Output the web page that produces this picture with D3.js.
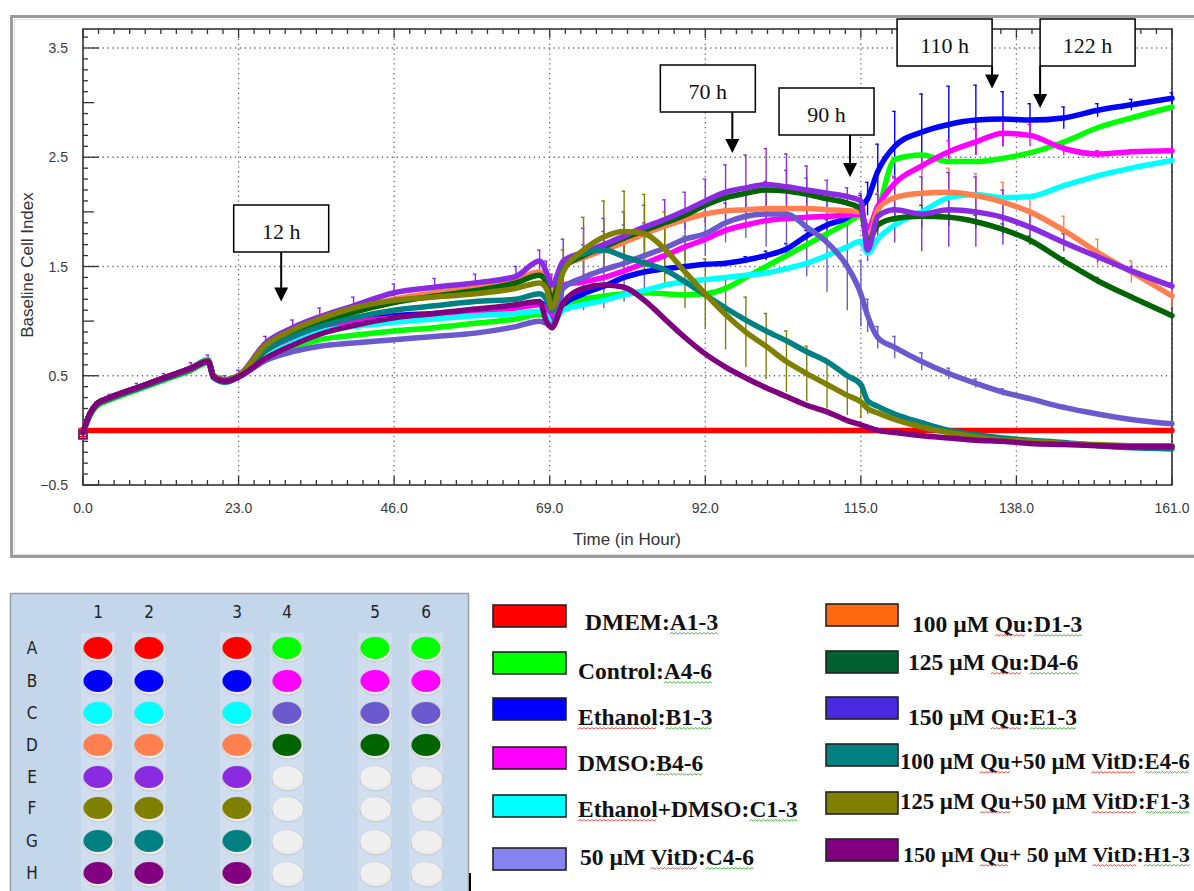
<!DOCTYPE html>
<html>
<head>
<meta charset="utf-8">
<script src="https://cdn.jsdelivr.net/npm/d3@7"></script>
<style>
  body { margin: 0; background: #fff; }
  svg { display: block; }
  text { white-space: pre; }
</style>
</head>
<body>
<svg id="fig" width="1194" height="891"></svg>
<script>
// ---------------- data ----------------
var hours = [0, 1, 2, 4, 8, 12, 16, 18.5, 19.3, 21,
  23, 27, 31, 35, 40, 46, 52, 58, 64, 67.5,
  68.5, 69.3, 71, 74, 77, 80, 83, 86, 89, 92,
  95, 98, 101, 104, 107, 110, 113, 115, 116, 117.5,
  120, 124, 128, 132, 136, 140, 145, 150, 155, 161];

var dmemCI = [0, 0, 0, 0, 0, 0, 0, 0, 0, 0,
  0, 0, 0, 0, 0, 0, 0, 0, 0, 0,
  0, 0, 0, 0, 0, 0, 0, 0, 0, 0,
  0, 0, 0, 0, 0, 0, 0, 0, 0, 0,
  0, 0, 0, 0, 0, 0, 0, 0, 0, 0];
var controlCI = [-0.02, 0.13, 0.22, 0.28, 0.37, 0.46, 0.55, 0.62, 0.49, 0.45,
  0.49, 0.66, 0.76, 0.83, 0.87, 0.91, 0.94, 0.98, 1.02, 1.06,
  1.04, 0.98, 1.15, 1.2, 1.23, 1.25, 1.26, 1.25, 1.24, 1.25,
  1.3, 1.4, 1.5, 1.6, 1.7, 1.8, 1.9, 1.97, 1.75, 2.0,
  2.48, 2.52, 2.46, 2.46, 2.49, 2.54, 2.64, 2.77, 2.86, 2.96];
var ethanolCI = [-0.02, 0.15, 0.24, 0.3, 0.39, 0.48, 0.57, 0.64, 0.5, 0.46,
  0.5, 0.7, 0.84, 0.95, 1.0, 1.05, 1.07, 1.1, 1.13, 1.17,
  1.12, 1.02, 1.15, 1.25, 1.32, 1.4, 1.45, 1.48, 1.5, 1.52,
  1.53, 1.56, 1.6, 1.66, 1.78, 1.88, 1.95, 2.05, 2.12, 2.37,
  2.6, 2.73, 2.8, 2.84, 2.85, 2.84, 2.86, 2.93, 2.98, 3.04];
var dmsoCI = [-0.02, 0.15, 0.24, 0.3, 0.39, 0.48, 0.57, 0.64, 0.5, 0.46,
  0.5, 0.7, 0.83, 0.93, 0.99, 1.03, 1.06, 1.09, 1.12, 1.15,
  1.12, 1.05, 1.33, 1.36, 1.4, 1.46, 1.53, 1.6, 1.68, 1.75,
  1.83, 1.88, 1.92, 1.94, 1.95, 1.96, 1.97, 1.98, 1.85, 2.05,
  2.26, 2.42, 2.55, 2.64, 2.72, 2.7, 2.58, 2.53, 2.55, 2.56];
var ethDmsoCI = [-0.02, 0.15, 0.24, 0.3, 0.39, 0.48, 0.57, 0.65, 0.5, 0.46,
  0.5, 0.68, 0.8, 0.9, 0.95, 0.99, 1.02, 1.05, 1.07, 1.09,
  1.05, 0.98, 1.1, 1.15, 1.19, 1.24, 1.28, 1.33, 1.36, 1.38,
  1.4, 1.42, 1.44, 1.48, 1.53, 1.6, 1.68, 1.73, 1.62, 1.75,
  1.88, 2.0, 2.13, 2.16, 2.13, 2.14, 2.24, 2.33, 2.4, 2.47];
var vitdCI = [-0.02, 0.14, 0.23, 0.29, 0.38, 0.47, 0.56, 0.63, 0.49, 0.45,
  0.49, 0.64, 0.72, 0.77, 0.8, 0.83, 0.86, 0.89, 0.95, 1.0,
  0.98, 0.95, 1.3, 1.4, 1.47, 1.53, 1.6, 1.67, 1.75, 1.8,
  1.9, 1.96, 1.98, 1.98, 1.86, 1.72, 1.5, 1.25, 1.05, 0.85,
  0.76, 0.63, 0.52, 0.43, 0.35, 0.29, 0.21, 0.15, 0.1, 0.06];
var qu100CI = [-0.02, 0.15, 0.24, 0.3, 0.39, 0.48, 0.57, 0.64, 0.5, 0.46,
  0.5, 0.74, 0.88, 0.99, 1.1, 1.2, 1.26, 1.31, 1.38, 1.45,
  1.38, 1.25, 1.5, 1.58, 1.65, 1.72, 1.8, 1.87, 1.93, 1.98,
  2.01, 2.02, 2.03, 2.03, 2.03, 2.02, 2.01, 2.0, 1.75, 2.02,
  2.13, 2.17, 2.18, 2.15, 2.09, 2.0, 1.83, 1.63, 1.45, 1.23];
var qu125CI = [-0.02, 0.15, 0.24, 0.3, 0.39, 0.48, 0.57, 0.64, 0.5, 0.46,
  0.5, 0.73, 0.87, 0.98, 1.08, 1.17, 1.23, 1.28, 1.35, 1.42,
  1.35, 1.2, 1.48, 1.6, 1.68, 1.76, 1.83, 1.9, 1.97, 2.06,
  2.13, 2.17, 2.2, 2.19, 2.16, 2.12, 2.08, 2.03, 1.72, 1.88,
  1.94, 1.96, 1.95, 1.91, 1.84, 1.74, 1.55, 1.37, 1.22, 1.05];
var qu150CI = [-0.02, 0.15, 0.24, 0.3, 0.39, 0.48, 0.57, 0.64, 0.5, 0.46,
  0.5, 0.8, 0.94, 1.04, 1.14, 1.26, 1.31, 1.35, 1.41, 1.55,
  1.45, 1.33, 1.55, 1.63, 1.7, 1.78, 1.86, 1.93, 2.01, 2.1,
  2.18, 2.22, 2.25, 2.23, 2.2, 2.17, 2.14, 2.1, 1.65, 1.96,
  2.02, 1.98, 2.02, 2.0, 1.95, 1.86, 1.72, 1.59, 1.46, 1.32];
var qu100VitdCI = [-0.02, 0.14, 0.23, 0.29, 0.38, 0.47, 0.56, 0.63, 0.48, 0.44,
  0.49, 0.74, 0.86, 0.95, 1.03, 1.1, 1.14, 1.18, 1.2, 1.25,
  1.2, 1.1, 1.47, 1.62, 1.65, 1.59, 1.53, 1.47, 1.36, 1.24,
  1.12, 1.01, 0.91, 0.82, 0.72, 0.63, 0.5, 0.42, 0.27, 0.22,
  0.15, 0.07, 0.0, -0.04, -0.07, -0.09, -0.11, -0.14, -0.16, -0.17];
var qu125VitdCI = [-0.02, 0.15, 0.24, 0.3, 0.39, 0.48, 0.57, 0.64, 0.5, 0.46,
  0.5, 0.78, 0.92, 1.02, 1.12, 1.19, 1.22, 1.25, 1.3, 1.35,
  1.3, 1.12, 1.45, 1.65, 1.77, 1.82, 1.8, 1.66, 1.45, 1.25,
  1.06, 0.9, 0.77, 0.63, 0.52, 0.42, 0.32, 0.26, 0.2, 0.16,
  0.1, 0.03, -0.02, -0.06, -0.09, -0.1, -0.12, -0.13, -0.14, -0.14];
var qu150VitdCI = [-0.02, 0.15, 0.24, 0.3, 0.39, 0.48, 0.57, 0.63, 0.49, 0.45,
  0.49, 0.66, 0.78, 0.88, 0.96, 1.03, 1.07, 1.11, 1.15, 1.18,
  1.0, 0.94, 1.17, 1.3, 1.33, 1.31, 1.19, 1.02, 0.85, 0.7,
  0.58, 0.48, 0.39, 0.31, 0.23, 0.17, 0.09, 0.05, 0.03, 0.0,
  -0.02, -0.05, -0.07, -0.09, -0.1, -0.12, -0.13, -0.14, -0.15, -0.15];

// standard deviations (only the wells whose bars show)
var ethanolSD = [0, 0, 0, 0, 0, 0, 0, 0, 0, 0,
  0, 0, 0, 0, 0, 0, 0, 0, 0, 0,
  0, 0, 0, 0, 0, 0, 0, 0, 0, 0,
  0, 0.03, 0.04, 0.05, 0.05, 0.05, 0.06, 0.1, 0.15, 0.25,
  0.32, 0.35, 0.35, 0.32, 0.25, 0.15, 0.1, 0.06, 0.05, 0.05];
var dmsoSD = [0, 0, 0, 0, 0, 0, 0, 0, 0, 0,
  0, 0, 0, 0, 0, 0, 0, 0, 0, 0,
  0, 0, 0, 0, 0, 0, 0, 0, 0, 0,
  0, 0, 0, 0, 0, 0, 0, 0, 0, 0,
  0.05, 0.08, 0.1, 0.12, 0.12, 0.1, 0.06, 0.03, 0.02, 0.02];
var vitdSD = [0, 0, 0, 0, 0, 0, 0, 0, 0, 0,
  0, 0, 0, 0, 0, 0, 0, 0, 0, 0,
  0, 0, 0.15, 0.3, 0.35, 0.35, 0.3, 0.25, 0.2, 0.2,
  0.18, 0.2, 0.3, 0.4, 0.45, 0.45, 0.4, 0.3, 0.15, 0.1,
  0.1, 0.08, 0.05, 0.04, 0.03, 0.02, 0.02, 0, 0, 0];
var qu100SD = [0, 0, 0, 0, 0, 0, 0, 0, 0, 0,
  0, 0, 0, 0, 0, 0, 0, 0, 0, 0,
  0, 0, 0, 0, 0, 0, 0, 0, 0, 0,
  0, 0, 0, 0, 0, 0, 0, 0.05, 0.1, 0.15,
  0.2, 0.22, 0.22, 0.2, 0.18, 0.15, 0.13, 0.12, 0.1, 0.1];
var qu125SD = [0, 0, 0, 0, 0, 0, 0, 0, 0, 0,
  0, 0, 0, 0, 0, 0, 0, 0, 0, 0,
  0, 0, 0, 0, 0, 0, 0, 0, 0, 0,
  0, 0, 0, 0, 0, 0, 0, 0, 0, 0.05,
  0.1, 0.1, 0.08, 0.06, 0.05, 0.04, 0.03, 0.03, 0.02, 0.02];
var qu150SD = [0, 0, 0.02, 0.03, 0.04, 0.04, 0.05, 0.05, 0.04, 0.04,
  0.05, 0.06, 0.07, 0.08, 0.08, 0.08, 0.08, 0.08, 0.09, 0.1,
  0.1, 0.1, 0.2, 0.22, 0.24, 0.22, 0.2, 0.18, 0.17, 0.2,
  0.25, 0.3, 0.33, 0.3, 0.22, 0.12, 0.08, 0.07, 0.1, 0.2,
  0.3, 0.34, 0.34, 0.32, 0.25, 0.15, 0.08, 0.05, 0.04, 0.03];
var qu125VitdSD = [0, 0, 0, 0, 0, 0, 0, 0, 0, 0,
  0, 0, 0, 0, 0, 0, 0, 0, 0, 0,
  0, 0, 0.2, 0.3, 0.33, 0.37, 0.36, 0.34, 0.33, 0.32,
  0.32, 0.32, 0.3, 0.28, 0.25, 0.22, 0.18, 0.15, 0.05, 0,
  0, 0, 0, 0, 0, 0, 0, 0, 0, 0];

var seriesLabels = ["DMEM:A1-3", "Control:A4-6", "Ethanol:B1-3", "DMSO:B4-6",
  "Ethanol+DMSO:C1-3", "50 µM VitD:C4-6", "100 µM Qu:D1-3", "125 µM Qu:D4-6",
  "150 µM Qu:E1-3", "100 µM Qu+50 µM VitD:E4-6", "125 µM Qu+50 µM VitD:F1-3",
  "150 µM Qu+ 50 µM VitD:H1-3"];
var seriesValues = [dmemCI, controlCI, ethanolCI, dmsoCI, ethDmsoCI, vitdCI,
  qu100CI, qu125CI, qu150CI, qu100VitdCI, qu125VitdCI, qu150VitdCI];
var seriesSD = [null, null, ethanolSD, dmsoSD, null, vitdSD,
  qu100SD, qu125SD, qu150SD, null, qu125VitdSD, null];

var lineColors = ["#ff0000", "#00ff00", "#0000ff", "#ff00ff", "#00ffff", "#6a5acd",
  "#ff7f50", "#006400", "#8a2be2", "#008080", "#808000", "#800080"];
var swatchColors = ["#ff0000", "#00ff00", "#0000ff", "#ff00ff", "#00ffff", "#8585f0",
  "#ff6a10", "#006030", "#4a2ae0", "#008080", "#808000", "#800080"];

var xTickValues = [0, 23, 46, 69, 92, 115, 138, 161];
var yTickValues = [-0.5, 0.5, 1.5, 2.5, 3.5];

// time marks written on the chart
var callouts = ["12 h", "70 h", "90 h", "110 h", "122 h"];
var calloutHours = [29.3, 96.0, 113.4, 134.4, 141.5];
var calloutTips = [1.18, 2.54, 2.32, 3.13, 2.95];

// 6-column plate map (index into seriesLabels, -1 = empty well)
var plateRows = ["A", "B", "C", "D", "E", "F", "G", "H"];
var plateCols = ["1", "2", "3", "4", "5", "6"];
var plateLayout = [
  [0, 0, 0, 1, 1, 1],
  [2, 2, 2, 3, 3, 3],
  [4, 4, 4, 5, 5, 5],
  [6, 6, 6, 7, 7, 7],
  [8, 8, 8, -1, -1, -1],
  [10, 10, 10, -1, -1, -1],
  [9, 9, 9, -1, -1, -1],
  [11, 11, 11, -1, -1, -1]];

// words Word flagged in the legend text
var spellFlagged = ["Ethanol", "Qu", "VitD"];

// ---------------- layout ----------------
var svg = d3.select("#fig");
var plot = {left: 83, right: 1172, top: 29, bottom: 485};

var x = d3.scaleLinear().domain([0, 161]).range([plot.left, plot.right]);
var y = d3.scaleLinear().domain([-0.5, 3.5]).range([plot.bottom, 48]);

// window frame around the chart
svg.append("rect")
  .attr("x", 11.5).attr("y", 16.5).attr("width", 1200).attr("height", 540)
  .attr("fill", "#fff").attr("stroke", "#9c9c9c").attr("stroke-width", 3);
svg.append("rect")
  .attr("x", 14.5).attr("y", 19.5).attr("width", 1200).attr("height", 535)
  .attr("fill", "none").attr("stroke", "#dedede").attr("stroke-width", 1);

//--------------- grid ---------------
var grid = svg.append("g").attr("stroke", "#6a6a6a").attr("stroke-width", 1.3)
  .attr("stroke-dasharray", "1.3,3.6");
grid.selectAll("line.gx")
  .data(xTickValues.filter(function(d) { return d > 0; }))
  .enter().append("line")
  .attr("x1", function(d) { return x(d); }).attr("x2", function(d) { return x(d); })
  .attr("y1", plot.top).attr("y2", plot.bottom);
grid.selectAll("line.gy")
  .data(yTickValues.filter(function(d) { return d > -0.5; }))
  .enter().append("line")
  .attr("x1", plot.left).attr("x2", plot.right)
  .attr("y1", function(d) { return y(d); }).attr("y2", function(d) { return y(d); });

//--------------- axes ---------------
var axisColor = "#333";
var minorX = d3.range(0, 71).map(function(i) { return i * 2.3; });
var ticks = svg.append("g").attr("stroke", axisColor).attr("stroke-width", 1.3);
minorX.forEach(function(h, i) {
  var len = (i % 10 === 0) ? 9 : 5;
  ticks.append("line").attr("x1", x(h)).attr("x2", x(h))
    .attr("y1", plot.bottom).attr("y2", plot.bottom - len);
  ticks.append("line").attr("x1", x(h)).attr("x2", x(h))
    .attr("y1", plot.top).attr("y2", plot.top + len);
});
d3.range(-5, 37).forEach(function(k) {
  var v = k / 10;
  var len = 5;
  if (k % 5 === 0) len = (Math.abs(k) % 10 === 5) ? 16 : 11;
  ticks.append("line").attr("x1", plot.left).attr("x2", plot.left + len)
    .attr("y1", y(v)).attr("y2", y(v));
});

svg.append("rect")
  .attr("x", plot.left).attr("y", plot.top)
  .attr("width", plot.right - plot.left).attr("height", plot.bottom - plot.top)
  .attr("fill", "none").attr("stroke", axisColor).attr("stroke-width", 1.6);

svg.append("g")
  .selectAll("text").data(xTickValues).enter().append("text")
  .attr("x", function(d) { return x(d); })
  .attr("y", 513)
  .attr("text-anchor", "middle")
  .style("font", "14px 'Liberation Sans', Arial, sans-serif")
  .style("fill", "#3a3a3a")
  .text(d3.format(".1f"));

svg.append("g")
  .selectAll("text").data(yTickValues).enter().append("text")
  .attr("x", 68)
  .attr("y", function(d) { return y(d) + 5; })
  .attr("text-anchor", "end")
  .style("font", "14px 'Liberation Sans', Arial, sans-serif")
  .style("fill", "#3a3a3a")
  .text(d3.format(".1f"));

svg.append("text")
  .attr("transform", "translate(33,265) rotate(-90)")
  .attr("text-anchor", "middle")
  .style("font", "17px 'Liberation Sans', Arial, sans-serif")
  .style("fill", "#333")
  .text("Baseline Cell Index");

svg.append("text")
  .attr("x", 627).attr("y", 545)
  .attr("text-anchor", "middle")
  .style("font", "17px 'Liberation Sans', Arial, sans-serif")
  .style("fill", "#333")
  .text("Time (in Hour)");

//--------------- curves ---------------
var chart = svg.append("g");

// error bars first, curves on top
seriesSD.forEach(function(sd, s) {
  if (!sd) return;
  var vals = seriesValues[s];
  var pts = hours.map(function(h, i) { return {h: h, v: vals[i], e: sd[i]}; })
    .filter(function(d) { return d.e > 0; });
  var g = chart.append("g").attr("stroke", lineColors[s]).attr("stroke-width", 1.4);
  g.selectAll("line.bar").data(pts).enter().append("line")
    .attr("x1", function(d) { return x(d.h); }).attr("x2", function(d) { return x(d.h); })
    .attr("y1", function(d) { return y(d.v - d.e); })
    .attr("y2", function(d) { return y(d.v + d.e); });
  g.selectAll("line.cap").data(pts).enter().append("line")
    .attr("x1", function(d) { return x(d.h) - 2.5; }).attr("x2", function(d) { return x(d.h) + 1; })
    .attr("y1", function(d) { return y(d.v + d.e); })
    .attr("y2", function(d) { return y(d.v + d.e); });
});

var line = d3.line()
  .x(function(d) { return x(d[0]); })
  .y(function(d) { return y(d[1]); })
  .curve(d3.curveMonotoneX);

seriesValues.forEach(function(vals, s) {
  var pts = hours.map(function(h, i) { return [h, vals[i]]; });
  chart.append("path")
    .attr("d", line(pts))
    .attr("fill", "none")
    .attr("stroke", lineColors[s])
    .attr("stroke-width", 5.5)
    .attr("stroke-linejoin", "round")
    .attr("stroke-linecap", "round");
  chart.append("rect")
    .attr("x", x(hours[0]) - 4).attr("y", y(vals[0]) - 2)
    .attr("width", 8).attr("height", 8)
    .attr("fill", "none").attr("stroke", lineColors[s]).attr("stroke-width", 1.3);
});

//--------------- call-out boxes ---------------
var boxW = 95, boxH = 47;
var boxShift = [-47.5, -72, -71, -95, 0];
var boxTop = [205, 65, 88, 19, 19];
var notes = svg.append("g");
callouts.forEach(function(label, i) {
  var ax = x(calloutHours[i]);
  var tipY = y(calloutTips[i]);
  var bx = ax + boxShift[i], by = boxTop[i];
  notes.append("line")
    .attr("x1", ax).attr("x2", ax)
    .attr("y1", by + boxH).attr("y2", tipY - 12)
    .attr("stroke", "#000").attr("stroke-width", 2);
  notes.append("path")
    .attr("d", "M" + (ax - 7) + "," + (tipY - 14) + "L" + (ax + 7) + "," + (tipY - 14) + "L" + ax + "," + tipY + "Z")
    .attr("fill", "#000");
  notes.append("rect")
    .attr("x", bx).attr("y", by).attr("width", boxW).attr("height", boxH)
    .attr("fill", "#fff").attr("stroke", "#000").attr("stroke-width", 1.5);
  notes.append("text")
    .attr("x", bx + boxW / 2).attr("y", by + 34)
    .attr("text-anchor", "middle")
    .style("font", "22px 'Liberation Serif', 'Times New Roman', serif")
    .style("fill", "#111")
    .text(label);
});

//--------------- plate map ---------------
var colX = [98, 149, 237, 287, 375, 426];
var rowY = [648, 681, 713, 745, 777, 808, 841, 873];
var plateFont = "17px 'DejaVu Sans Condensed', 'Liberation Sans Narrow', 'Liberation Sans', sans-serif";
var plate = svg.append("g");
plate.append("rect")
  .attr("x", 10.5).attr("y", 593.5).attr("width", 458).attr("height", 310)
  .attr("fill", "#c4d6ea").attr("stroke", "#9a9fa6").attr("stroke-width", 1.5);
plate.selectAll("rect.strip").data(colX).enter().append("rect")
  .attr("x", function(d) { return d - 17; }).attr("y", 633)
  .attr("width", 34).attr("height", 270)
  .attr("fill", "#d0def0");
plate.selectAll("text.col").data(plateCols).enter().append("text")
  .attr("x", function(d, i) { return colX[i]; }).attr("y", 618)
  .attr("text-anchor", "middle")
  .style("font", plateFont)
  .style("fill", "#222")
  .text(function(d) { return d; });
plate.selectAll("text.row").data(plateRows).enter().append("text")
  .attr("x", 32).attr("y", function(d, i) { return rowY[i] + 6; })
  .attr("text-anchor", "middle")
  .style("font", plateFont)
  .style("fill", "#222")
  .text(function(d) { return d; });

plateLayout.forEach(function(row, r) {
  row.forEach(function(s, c) {
    var cx = colX[c], cy = rowY[r];
    plate.append("ellipse")
      .attr("cx", cx + 1).attr("cy", cy + 1.5).attr("rx", 16).attr("ry", 12.5)
      .attr("fill", "#ececec").attr("stroke", "#b8bcc2").attr("stroke-width", 0.8);
    plate.append("ellipse")
      .attr("cx", cx).attr("cy", cy).attr("rx", 14.5).attr("ry", 11)
      .attr("fill", s < 0 ? "#efefef" : lineColors[s]);
  });
});

svg.append("line")
  .attr("x1", 470).attr("x2", 470).attr("y1", 873).attr("y2", 891)
  .attr("stroke", "#000").attr("stroke-width", 2);

//--------------- legend ---------------
var legendCols = [
  {swX: 493, swW: 73, items: [0, 1, 2, 3, 4, 5],
   swTop: [605, 652, 698, 747, 795, 848], textX: [585, 578, 578, 578, 578, 580],
   textMid: [623, 672, 718, 764, 810, 858]},
  {swX: 826, swW: 72, items: [6, 7, 8, 9, 10, 11],
   swTop: [604, 651, 697, 744, 792, 839], textX: [912, 908, 908, 900, 900, 903],
   textMid: [625, 663, 718, 762, 802, 855]}
];
var legend = svg.append("g");
var splitter = /(Ethanol|Qu|VitD|[A-H]\d-\d)/;
var legendSize = 23.5, rightLimit = 1190;

legendCols.forEach(function(col) {
  col.items.forEach(function(s, k) {
    legend.append("rect")
      .attr("x", col.swX).attr("y", col.swTop[k])
      .attr("width", col.swW).attr("height", 22)
      .attr("fill", swatchColors[s]).attr("stroke", "#222").attr("stroke-width", 1.6);

    var base = col.textMid[k] + 7;
    var t = legend.append("text")
      .attr("x", col.textX[k]).attr("y", base)
      .style("font-family", "'Liberation Serif', 'Times New Roman', serif")
      .style("font-weight", "bold")
      .style("font-size", legendSize + "px")
      .style("fill", "#111");
    var parts = seriesLabels[s].split(splitter).filter(function(p) { return p.length; });
    var spans = parts.map(function(p) { return t.append("tspan").text(p); });

    // long labels would run off the page: shrink them to fit
    var full = t.node().getComputedTextLength();
    if (col.textX[k] + full > rightLimit) {
      t.style("font-size", (legendSize * (rightLimit - col.textX[k]) / full) + "px");
    }

    parts.forEach(function(p, i) {
      var kind = spellFlagged.indexOf(p) >= 0 ? "#e23a3a" : (/^[A-H]\d-\d$/.test(p) ? "#3fa53f" : null);
      if (!kind) return;
      var node = spans[i].node();
      var x0 = node.getStartPositionOfChar(0).x;
      var w = node.getComputedTextLength();
      var d = "M" + x0 + "," + (base + 4);
      for (var xx = x0 + 2, up = true; xx <= x0 + w; xx += 2, up = !up) {
        d += "L" + xx + "," + (base + (up ? 2.6 : 4));
      }
      legend.append("path").attr("d", d).attr("fill", "none")
        .attr("stroke", kind).attr("stroke-width", 0.9);
    });
  });
});
</script>
</body>
</html>
